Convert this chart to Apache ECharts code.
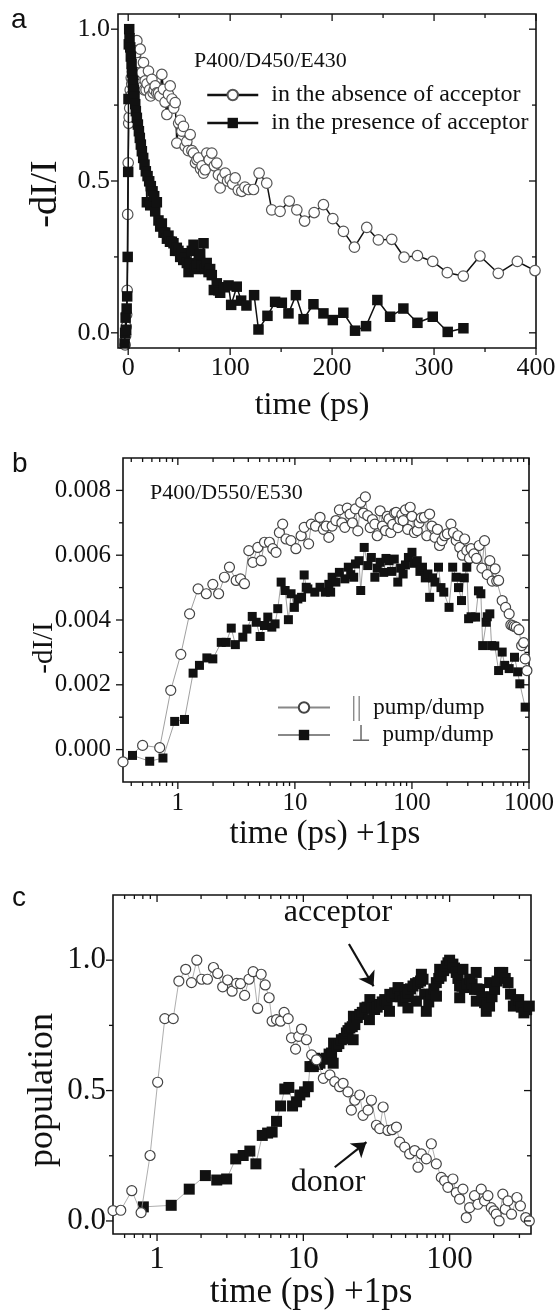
<!DOCTYPE html>
<html><head><meta charset="utf-8">
<script src="https://cdn.jsdelivr.net/npm/echarts@6/dist/echarts.min.js"></script>
<style>html,body{margin:0;padding:0;background:#fff}#c{width:555px;height:1310px}</style>
</head><body><div id="c"></div>
<script>
// ---------- Panel a data: [time (ps), -dI/I] ----------
const absenceA = [[-3,-0.04],[-2.5,-0.01],[-2,0.02],[-1.5,0.06],[-1,0.14],[-0.5,0.39],[0,0.56],[0.5,0.69],[1,0.71],[1.5,0.74],[2,0.8],[2.5,0.78],[3,0.84],[3.5,0.82],[4,0.86],[4.5,0.83],[5,0.9],[5.5,0.88],[6.2,0.95],[7,0.9],[7.5,0.92],[8.5,0.962],[9.2,0.87],[10.1,0.89],[11,0.84],[11.8,0.934],[12.6,0.82],[13.4,0.857],[14.2,0.81],[15,0.89],[15.8,0.8],[16.7,0.83],[17.5,0.8],[18.5,0.82],[19.9,0.862],[21,0.8],[22,0.78],[23.2,0.835],[24.5,0.79],[25.5,0.8],[26.5,0.813],[28,0.79],[29.7,0.79],[31.2,0.78],[33,0.851],[34.6,0.802],[36.2,0.76],[37.9,0.719],[39.5,0.785],[41.2,0.813],[43,0.77],[44.6,0.74],[46.1,0.758],[47.7,0.625],[49.5,0.69],[51,0.7],[52.6,0.664],[54.2,0.68],[55.9,0.614],[57.5,0.63],[59,0.6],[60.8,0.653],[62.5,0.6],[64.1,0.592],[66,0.56],[67.5,0.57],[69,0.576],[71,0.54],[72.5,0.55],[73.9,0.526],[75.5,0.537],[77.1,0.592],[79.5,0.57],[82,0.592],[84.5,0.55],[86.9,0.559],[88.5,0.52],[90.2,0.477],[92.5,0.51],[95.1,0.526],[97.5,0.5],[100,0.505],[102.5,0.49],[104.9,0.51],[108,0.47],[111.4,0.466],[114.5,0.48],[118,0.472],[122.9,0.472],[128.4,0.526],[135.9,0.493],[140.8,0.405],[149,0.4],[158,0.434],[165.4,0.405],[173,0.368],[182.4,0.396],[191.5,0.422],[200.7,0.376],[211.1,0.334],[221.9,0.282],[234,0.347],[245.4,0.306],[258.5,0.308],[270.6,0.249],[283.7,0.254],[298.7,0.235],[313,0.198],[328.7,0.187],[345,0.253],[363,0.196],[381.7,0.235],[399,0.205]];
const presenceA = [[-3.5,-0.035],[-3,0.0],[-2.5,0.05],[-2,0.01],[-1.5,0.08],[-1,0.12],[-0.5,0.25],[0,0.53],[0.3,0.77],[0.6,0.95],[1,1.0],[1.3,0.97],[2,0.94],[2.6,0.91],[3.3,0.885],[3.9,0.857],[4.9,0.83],[5.6,0.8],[6.2,0.778],[6.9,0.753],[7.5,0.73],[8.5,0.708],[9.5,0.686],[10.5,0.664],[11.4,0.642],[12.4,0.62],[13.4,0.598],[14.7,0.576],[16,0.554],[17.3,0.532],[18.3,0.43],[19,0.516],[20.6,0.499],[21.6,0.42],[22.2,0.483],[23.9,0.466],[25.5,0.45],[26.5,0.4],[28.1,0.43],[29.7,0.37],[31.4,0.35],[33,0.36],[34.6,0.33],[36.3,0.33],[38,0.31],[39.5,0.32],[41,0.3],[42.8,0.3],[44.4,0.295],[46,0.27],[47.7,0.28],[49.3,0.27],[51,0.25],[52.6,0.262],[54,0.24],[55.9,0.246],[57.5,0.23],[59.2,0.2],[60.8,0.229],[62.4,0.27],[64.1,0.29],[65.7,0.21],[67.3,0.22],[69,0.23],[70.6,0.26],[72.2,0.22],[73.9,0.295],[75.5,0.21],[77,0.23],[78.8,0.2],[80.4,0.21],[82,0.19],[84,0.141],[86.9,0.163],[88.5,0.14],[90.2,0.132],[94,0.15],[98.4,0.156],[101,0.092],[106.5,0.152],[110.8,0.106],[116,0.09],[123.5,0.124],[127.8,0.011],[136.6,0.056],[144.1,0.102],[150.7,0.099],[157.2,0.064],[164.5,0.124],[172,0.045],[181.7,0.094],[191.5,0.064],[200.7,0.042],[211,0.066],[222.5,0.007],[233.3,0.022],[244.4,0.108],[256.9,0.053],[269.9,0.08],[283.7,0.033],[298.7,0.053],[313.4,0.003],[328.8,0.015]];

// ---------- Panel b data: [time (ps)+1ps, -dI/I] ----------
const parallelB = [[0.34,-0.00038],[0.5,0.00013],[0.7,0.00006],[0.87,0.00183],[1.06,0.00294],[1.26,0.00419],[1.49,0.00496],[1.75,0.00481],[1.99,0.0051],[2.23,0.00481],[2.5,0.00532],[2.76,0.00563],[3.15,0.00522],[3.43,0.00527],[3.71,0.00512],[4.04,0.00614],[4.37,0.00578],[4.82,0.00624],[5.15,0.00583],[5.5,0.0064],[6.06,0.0064],[6.47,0.0062],[6.9,0.00609],[7.37,0.0067],[7.86,0.00696],[8.4,0.0065],[9.25,0.00645],[10.2,0.0062],[11.3,0.0066],[12,0.00686],[13.1,0.00635],[13.8,0.00696],[15,0.0069],[16.4,0.00717],[17.5,0.0068],[18.5,0.0069],[19.5,0.00655],[20.8,0.0069],[22.4,0.00707],[24,0.0074],[25.2,0.007],[26.7,0.00686],[28,0.00745],[29.6,0.00727],[31,0.007],[32.9,0.00743],[34.5,0.00675],[36.5,0.00763],[38.5,0.0073],[40,0.0078],[41.9,0.00722],[44,0.00685],[46,0.0071],[48.2,0.00696],[50.5,0.0066],[53.5,0.00737],[56,0.0069],[59.4,0.00676],[61.5,0.0072],[63.7,0.00712],[66,0.0067],[68.5,0.00695],[71,0.0073],[73.2,0.00732],[76,0.00685],[79,0.0071],[82,0.00725],[84.1,0.00707],[88,0.0074],[92,0.0068],[96.6,0.00748],[100,0.0072],[105,0.0067],[111,0.00676],[115,0.007],[120,0.00715],[127.6,0.00717],[134,0.0066],[141.6,0.00727],[148,0.0069],[157.3,0.00655],[165,0.0068],[172,0.0063],[180.6,0.00645],[190,0.0066],[200.8,0.00666],[215.4,0.00696],[226,0.0067],[238.9,0.00645],[247,0.0066],[256.1,0.00624],[270,0.006],[282,0.0065],[294.2,0.00614],[310,0.0059],[320,0.0062],[338,0.00604],[356,0.0059],[375.5,0.0063],[396,0.0056],[416.9,0.00645],[440,0.0054],[462.7,0.00583],[485,0.0052],[513.6,0.00558],[530,0.0052],[550,0.00522],[590,0.0046],[631,0.00439],[677,0.00419],[700,0.00385],[726,0.00383],[750,0.0038],[779,0.00378],[820,0.0037],[865,0.00321],[900,0.0033],[927,0.0028],[960,0.00244]];
const perpB = [[0.41,-0.00018],[0.575,-0.00036],[0.746,-0.00026],[0.94,0.00087],[1.14,0.00093],[1.35,0.00236],[1.53,0.0026],[1.77,0.00283],[1.99,0.0028],[2.35,0.00331],[2.59,0.00331],[2.86,0.00375],[3.1,0.00324],[3.59,0.00347],[3.89,0.00372],[4.32,0.00411],[4.67,0.00393],[5.05,0.00349],[5.5,0.00383],[5.87,0.00409],[6.35,0.00378],[6.77,0.00388],[7.14,0.00435],[7.63,0.00517],[8.25,0.00491],[8.8,0.00401],[9.27,0.00481],[9.9,0.00439],[10.6,0.00465],[11.4,0.0047],[12,0.00539],[12.5,0.00501],[12.9,0.00496],[14.8,0.00486],[16.4,0.00501],[18.2,0.00486],[19.5,0.0051],[20.2,0.00486],[20.8,0.00532],[22.4,0.00517],[24,0.00547],[26.7,0.00527],[28.6,0.00563],[30,0.0054],[31.8,0.00532],[32.9,0.00573],[35.3,0.00583],[36.5,0.00491],[39.1,0.00624],[41.9,0.00568],[45,0.00593],[48.2,0.00532],[50.5,0.0056],[53.5,0.00578],[57.4,0.00547],[60,0.0059],[63.7,0.00583],[67,0.0055],[70.6,0.00588],[75.7,0.00517],[80,0.0056],[84.1,0.00542],[88,0.0057],[93.3,0.00593],[100,0.00609],[105,0.00575],[111,0.00583],[117,0.0055],[123,0.00563],[130,0.0053],[136.8,0.00542],[141.6,0.0047],[150,0.0053],[157.3,0.00517],[168.6,0.00563],[177,0.005],[187,0.00486],[207.5,0.00439],[222.8,0.00563],[238.9,0.00532],[250,0.005],[265,0.0046],[280,0.0053],[294.2,0.00563],[304.8,0.00404],[320,0.0041],[349.9,0.00409],[370,0.0049],[388,0.00481],[402,0.00321],[431.5,0.00393],[440,0.0041],[462.7,0.00419],[479,0.00321],[510,0.0032],[550,0.00244],[590,0.00301],[620,0.0026],[677,0.0025],[752,0.00285],[800,0.0024],[835,0.00203],[927,0.00131]];

// ---------- Panel c data: [time (ps)+1ps, population] ----------
const donorC = [[0.5,0.04],[0.565,0.041],[0.672,0.116],[0.778,0.032],[0.896,0.251],[1.01,0.532],[1.13,0.776],[1.29,0.776],[1.41,0.92],[1.57,0.965],[1.72,0.914],[1.87,1.0],[2.02,0.927],[2.21,0.927],[2.43,0.972],[2.6,0.949],[2.81,0.898],[3.04,0.924],[3.26,0.881],[3.5,0.911],[3.72,0.91],[3.97,0.865],[4.25,0.927],[4.54,0.956],[4.87,0.815],[5.15,0.946],[5.49,0.905],[5.84,0.856],[6.12,0.766],[6.56,0.772],[6.99,0.766],[7.39,0.8],[7.88,0.776],[8.3,0.702],[8.85,0.659],[9.3,0.708],[9.72,0.736],[10.5,0.695],[11.4,0.637],[12.3,0.618],[13.7,0.547],[15.2,0.56],[16.4,0.534],[17.7,0.515],[18.7,0.528],[20.2,0.495],[21.3,0.425],[22.5,0.463],[24.3,0.483],[25.6,0.405],[27.7,0.425],[29.2,0.463],[31.6,0.367],[33.3,0.354],[35.1,0.437],[37.9,0.347],[40.5,0.35],[43.3,0.36],[45.6,0.302],[49.3,0.283],[53.3,0.257],[57.7,0.27],[60.8,0.206],[64.1,0.257],[69.3,0.238],[75,0.296],[81.1,0.219],[87.7,0.167],[92.4,0.154],[97.3,0.129],[105.3,0.161],[111,0.109],[117,0.084],[123.3,0.122],[130,0.013],[137,0.051],[148,0.097],[156,0.064],[164.5,0.122],[173.4,0.077],[182.7,0.097],[192.5,0.051],[200.6,0.039],[208.2,0.026],[218,0.0],[231,0.103],[240,0.045],[250.7,0.077],[265,0.026],[288.4,0.09],[304.8,0.058],[331.4,0.013],[350.6,0.0]];
const acceptorC = [[0.806,0.054],[1.25,0.06],[1.66,0.122],[2.14,0.174],[2.56,0.157],[2.99,0.161],[3.45,0.238],[3.88,0.251],[4.31,0.268],[4.74,0.219],[5.24,0.328],[5.7,0.337],[6.12,0.341],[6.56,0.382],[6.99,0.441],[7.47,0.506],[7.96,0.512],[8.44,0.441],[8.99,0.457],[9.47,0.483],[10.2,0.495],[10.8,0.515],[11.1,0.592],[11.7,0.592],[12,0.624],[12.5,0.6],[13,0.605],[13.7,0.62],[14.4,0.624],[15,0.64],[15.6,0.644],[16,0.605],[16.1,0.682],[16.9,0.669],[17.5,0.68],[18.2,0.695],[19,0.7],[19.7,0.721],[20.2,0.73],[20.8,0.74],[21.6,0.745],[21.9,0.695],[22,0.785],[22.5,0.753],[23.4,0.78],[24.3,0.792],[25.3,0.8],[26.3,0.817],[27.3,0.82],[28.3,0.772],[28.5,0.849],[29.5,0.815],[30.7,0.811],[32,0.82],[33.3,0.83],[34.6,0.84],[36,0.849],[37.4,0.84],[38.8,0.804],[39,0.869],[40.5,0.86],[42.1,0.875],[44.4,0.895],[46,0.86],[48,0.843],[49.3,0.888],[50,0.86],[51.9,0.817],[52.2,0.875],[54,0.89],[56.2,0.901],[58.5,0.91],[59.3,0.843],[60.8,0.914],[63.3,0.92],[64.1,0.946],[65.8,0.927],[67.5,0.87],[69.3,0.804],[72,0.84],[75,0.869],[78,0.89],[81.1,0.914],[81.3,0.862],[84.3,0.93],[85.5,0.965],[87.7,0.939],[91,0.96],[94.8,0.978],[97.4,0.99],[100,1.0],[105.3,0.985],[108,0.97],[111,0.953],[114,0.93],[117,0.901],[117.2,0.856],[121.5,0.9],[123.3,0.965],[126.5,0.895],[131.5,0.91],[137,0.927],[142.5,0.91],[148,0.888],[152,0.953],[152.2,0.843],[154,0.89],[160,0.888],[166.5,0.86],[173.4,0.837],[178,0.804],[180,0.83],[187.5,0.824],[187.7,0.914],[195,0.86],[202.8,0.888],[211,0.92],[219.4,0.953],[230.7,0.953],[240,0.93],[250.7,0.914],[261,0.87],[272.8,0.824],[284,0.84],[296.5,0.849],[309,0.82],[322,0.798],[336,0.81],[350.6,0.824]];
const arrowAcceptor = [[20.5,1.062],[30.2,0.9]];
const arrowDonor = [[16.4,0.206],[27,0.302]];

// ---------- Axis ranges and tick values ----------
const aX = [-10, 400], aY = [-0.05, 1.05];
const bX = [0.34, 1000], bY = [-0.001, 0.009];
const cX = [0.5, 360], cY = [-0.05, 1.25];
const aXMajor = [0,100,200,300,400], aXMinor = [50,150,250,350];
const aYMajor = [0,0.5,1.0], aYMinor = [0.25,0.75];
const bXMajor = [1,10,100,1000], bXMinor = [0.4,0.5,0.6,0.7,0.8,0.9,2,3,4,5,6,7,8,9,20,30,40,50,60,70,80,90,200,300,400,500,600,700,800,900];
const bYMajor = [0,0.002,0.004,0.006,0.008], bYMinor = [0.001,0.003,0.005,0.007];
const cXMajor = [1,10,100], cXMinor = [0.6,0.7,0.8,0.9,2,3,4,5,6,7,8,9,20,30,40,50,60,70,80,90,200,300];
const cYMajor = [0,0.5,1.0], cYMinor = [0.25,0.75];

const SERIF = "'Liberation Serif','Times New Roman',serif";
const SANS = "'Liberation Sans',Arial,sans-serif";
const INK = '#111';

function pow10Label(v){ const l = Math.log10(v); return Math.abs(l - Math.round(l)) < 1e-6 ? String(Math.round(v)) : ''; }

function tickSeries(g, xr, yr, xMaj, xMin, yMaj, yMin){
  const lineSt = {stroke: INK, lineWidth: 1.3};
  const xs = {
    type:'custom', xAxisIndex:g, yAxisIndex:g, silent:true, clip:false, z:10, animation:false,
    data: xMaj.map(v=>[v, yr[0], 1]).concat(xMin.map(v=>[v, yr[0], 0])),
    encode:{x:0, y:1},
    renderItem:(p, api)=>{
      const v = api.value(0), len = api.value(2) ? 7 : 4;
      const b = api.coord([v, yr[0]]), t = api.coord([v, yr[1]]);
      return {type:'group', children:[
        {type:'line', shape:{x1:b[0],y1:b[1],x2:b[0],y2:b[1]+len}, style:lineSt},
        {type:'line', shape:{x1:t[0],y1:t[1],x2:t[0],y2:t[1]+len}, style:lineSt}
      ]};
    }
  };
  const ys = {
    type:'custom', xAxisIndex:g, yAxisIndex:g, silent:true, clip:false, z:10, animation:false,
    data: yMaj.map(v=>[xr[0], v, 1]).concat(yMin.map(v=>[xr[0], v, 0])),
    encode:{x:0, y:1},
    renderItem:(p, api)=>{
      const v = api.value(1), len = api.value(2) ? 7 : 4;
      const l = api.coord([xr[0], v]), r = api.coord([xr[1], v]);
      return {type:'group', children:[
        {type:'line', shape:{x1:l[0]-len,y1:l[1],x2:l[0],y2:l[1]}, style:lineSt},
        {type:'line', shape:{x1:r[0]-len,y1:r[1],x2:r[0],y2:r[1]}, style:lineSt}
      ]};
    }
  };
  return [xs, ys];
}

const gridBase = {show:true, borderColor:INK, borderWidth:1.6, backgroundColor:'transparent', outerBoundsMode:'none', containLabel:false};
const hideAxisParts = {axisLine:{show:false}, axisTick:{show:false}, splitLine:{show:false}, minorTick:{show:false}, minorSplitLine:{show:false}};
const openCircle = (border) => ({color:'#fff', borderColor:border, borderWidth:1.2});

const chart = echarts.init(document.getElementById('c'), null, {renderer:'canvas'});
const option = {
  animation:false,
  backgroundColor:'#fff',
  grid:[
    Object.assign({left:118, top:14, width:418, height:334}, gridBase),
    Object.assign({left:123, top:458, width:406, height:324}, gridBase),
    Object.assign({left:113, top:895, width:418, height:339}, gridBase)
  ],
  xAxis:[
    Object.assign({gridIndex:0, type:'value', min:aX[0], max:aX[1],
      axisLabel:{customValues:aXMajor, formatter:v=>String(v), margin:7, fontSize:26, fontFamily:SERIF, color:INK}}, hideAxisParts),
    Object.assign({gridIndex:1, type:'log', logBase:10, min:bX[0], max:bX[1],
      axisLabel:{formatter:pow10Label, margin:9, fontSize:25, fontFamily:SERIF, color:INK}}, hideAxisParts),
    Object.assign({gridIndex:2, type:'log', logBase:10, min:cX[0], max:cX[1],
      axisLabel:{formatter:pow10Label, margin:10, fontSize:31, fontFamily:SERIF, color:INK}}, hideAxisParts)
  ],
  yAxis:[
    Object.assign({gridIndex:0, type:'value', min:aY[0], max:aY[1],
      axisLabel:{customValues:aYMajor, formatter:v=>v.toFixed(1), margin:8, fontSize:26, fontFamily:SERIF, color:INK}}, hideAxisParts),
    Object.assign({gridIndex:1, type:'value', min:bY[0], max:bY[1],
      axisLabel:{customValues:bYMajor, formatter:v=>v.toFixed(3), margin:12, fontSize:25, fontFamily:SERIF, color:INK}}, hideAxisParts),
    Object.assign({gridIndex:2, type:'value', min:cY[0], max:cY[1],
      axisLabel:{customValues:cYMajor, formatter:v=>v.toFixed(1), margin:7, fontSize:31, fontFamily:SERIF, color:INK}}, hideAxisParts)
  ],
  legend:[
    {data:['in the absence of acceptor','in the presence of acceptor'], orient:'vertical', left:201, top:78,
     itemWidth:51, itemHeight:13, itemGap:4, selectedMode:false, lineStyle:{width:2.5, color:INK},
     textStyle:{fontFamily:SERIF, fontSize:24, lineHeight:24, color:INK, padding:[0,0,0,8]}},
    {data:['par','perp'], orient:'vertical', left:272, top:689, itemWidth:52, itemHeight:13, itemGap:2, selectedMode:false,
     formatter:n => n === 'par' ? '{g|||}  pump/dump' : '{p|⊥}  pump/dump',
     textStyle:{fontFamily:SERIF, fontSize:23, lineHeight:24, color:INK, padding:[0,0,0,16],
       rich:{g:{color:'#888', fontFamily:SERIF, fontSize:27, lineHeight:24}, p:{color:'#666', fontFamily:SERIF, fontSize:23, lineHeight:24}}}}
  ],
  series:[
    {name:'in the absence of acceptor', type:'line', xAxisIndex:0, yAxisIndex:0, data:absenceA, symbol:'circle', symbolSize:10.5,
     itemStyle:openCircle('#555'), lineStyle:{color:INK, width:1.5}, silent:true, z:2, emphasis:{disabled:true}},
    {name:'in the presence of acceptor', type:'line', xAxisIndex:0, yAxisIndex:0, data:presenceA, symbol:'rect', symbolSize:10.5,
     itemStyle:{color:INK}, lineStyle:{color:INK, width:1.5}, silent:true, z:3, emphasis:{disabled:true}},
    {name:'par', type:'line', xAxisIndex:1, yAxisIndex:1, data:parallelB, symbol:'circle', symbolSize:10,
     itemStyle:openCircle('#444'), lineStyle:{color:'#888', width:0.8}, silent:true, z:2, emphasis:{disabled:true}},
    {name:'perp', type:'line', xAxisIndex:1, yAxisIndex:1, data:perpB, symbol:'rect', symbolSize:9,
     itemStyle:{color:INK}, lineStyle:{color:'#888', width:0.8}, silent:true, z:3, emphasis:{disabled:true}},
    {name:'acceptor', type:'line', xAxisIndex:2, yAxisIndex:2, data:acceptorC, symbol:'rect', symbolSize:11,
     itemStyle:{color:INK}, lineStyle:{color:'#999', width:0.8}, silent:true, z:2, emphasis:{disabled:true},
     markLine:{silent:true, symbol:['none','arrow'], symbolSize:14, label:{show:false}, animation:false, precision:4,
       lineStyle:{color:INK, width:2.2, type:'solid'}, itemStyle:{color:INK}, emphasis:{disabled:true},
       data:[[{coord:arrowAcceptor[0]},{coord:arrowAcceptor[1]}],[{coord:arrowDonor[0]},{coord:arrowDonor[1]}]]}},
    {name:'donor', type:'line', xAxisIndex:2, yAxisIndex:2, data:donorC, symbol:'circle', symbolSize:10,
     itemStyle:openCircle('#444'), lineStyle:{color:'#999', width:0.8}, silent:true, z:3, emphasis:{disabled:true}}
  ].concat(
    tickSeries(0, aX, aY, aXMajor, aXMinor, aYMajor, aYMinor),
    tickSeries(1, bX, bY, bXMajor, bXMinor, bYMajor, bYMinor),
    tickSeries(2, cX, cY, cXMajor, cXMinor, cYMajor, cYMinor)
  ),
  graphic:[
    {type:'text', left:11, top:6, style:{text:'a', font:'28px '+SANS, fill:INK}},
    {type:'text', left:12, top:450, style:{text:'b', font:'28px '+SANS, fill:INK}},
    {type:'text', left:12, top:884, style:{text:'c', font:'28px '+SANS, fill:INK}},
    {type:'text', x:194, y:61, style:{text:'P400/D450/E430', font:'22px '+SERIF, fill:INK, verticalAlign:'middle'}},
    {type:'text', x:150, y:493, style:{text:'P400/D550/E530', font:'22px '+SERIF, fill:INK, verticalAlign:'middle'}},
    {type:'text', x:312, y:406, style:{text:'time (ps)', font:'32px '+SERIF, fill:INK, align:'center', verticalAlign:'middle'}},
    {type:'text', x:46, y:194, rotation:Math.PI/2, style:{text:'-dI/I', font:'38px '+SERIF, fill:INK, align:'center', verticalAlign:'middle'}},
    {type:'text', x:325, y:834, style:{text:'time (ps) +1ps', font:'33px '+SERIF, fill:INK, align:'center', verticalAlign:'middle'}},
    {type:'text', x:44, y:648, rotation:Math.PI/2, style:{text:'-dI/I', font:'29px '+SERIF, fill:INK, align:'center', verticalAlign:'middle'}},
    {type:'text', x:311, y:1293, style:{text:'time (ps) +1ps', font:'35px '+SERIF, fill:INK, align:'center', verticalAlign:'middle'}},
    {type:'text', x:43, y:1090, rotation:Math.PI/2, style:{text:'population', font:'36px '+SERIF, fill:INK, align:'center', verticalAlign:'middle'}},
    {type:'text', x:338, y:913, style:{text:'acceptor', font:'32px '+SERIF, fill:INK, align:'center', verticalAlign:'middle'}},
    {type:'text', x:328, y:1183, style:{text:'donor', font:'32px '+SERIF, fill:INK, align:'center', verticalAlign:'middle'}}
  ]
};
chart.setOption(option);
</script>
</body></html>
